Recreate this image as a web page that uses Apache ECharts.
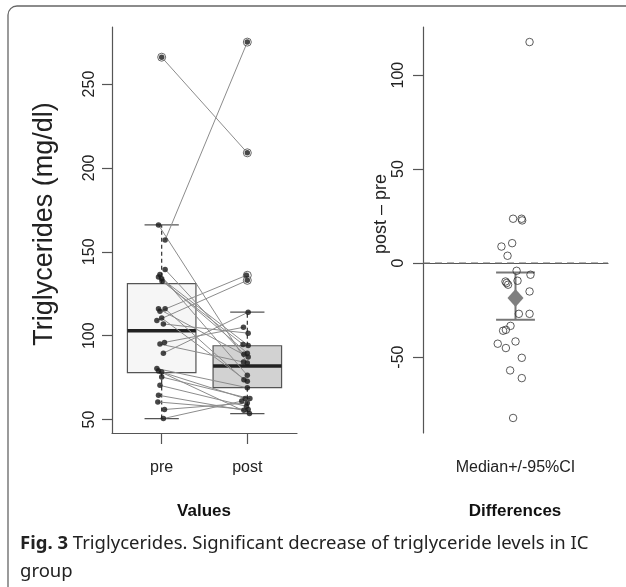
<!DOCTYPE html>
<html>
<head>
<meta charset="utf-8">
<script src="https://cdn.jsdelivr.net/npm/echarts@6/dist/echarts.min.js"></script>
<style>html,body{margin:0;padding:0;background:#fff}#c{width:626px;height:587px}</style>
</head>
<body>
<div id="c"></div>
<script>
// ---- data ----
const groups = ['pre', 'post'];
const preVals  = [266, 166, 157, 139.5, 136.5, 135, 134, 132.5, 116, 116, 114.6, 110.5, 109, 107, 96, 95, 89.6, 80.4, 79, 78.3, 75.4, 70.4, 64.5, 60.5, 56, 50.6];
const postVals = [209, 83.7, 275, 88.9, 76.4, 89.6, 94.2, 94.8, 73.8, 87.3, 136, 72.8, 133, 101.5, 105, 84.3, 114, 69, 53.6, 62.5, 62.5, 57.9, 55.5, 56, 59.9, 61];
const preJitter  = [1.0, 0.963, 1.04, 1.04, 0.98, 0.963, 1.0, 1.005, 1.04, 0.963, 0.98, 1.0, 0.944, 1.02, 1.033, 0.98, 1.02, 0.944, 0.963, 1.0, 1.0, 0.98, 0.963, 0.955, 1.033, 1.02];
const postJitter = [2.0, 2.0, 2.0, 1.96, 2.0, 2.0, 2.01, 1.95, 1.96, 2.01, 1.99, 2.0, 2.0, 2.01, 1.955, 1.955, 2.01, 2.0, 2.025, 1.975, 2.03, 1.99, 1.96, 2.01, 2.0, 1.935];
// five-number box statistics: [lower whisker, Q1, median, Q3, upper whisker]
const preBox  = [50.6, 78, 103, 131, 166];
const postBox = [53.6, 69, 82, 94, 114];
const leftTicks = [50, 100, 150, 200, 250];
const leftYLabel = 'Triglycerides (mg/dl)';

const diffVals   = [117.6, 23.6, 22.7, 23.6, 10.6, 8.8, 3.9, -4.1, -6.2, -9.4, -9.8, -10.6, -11.5, -15.1, -27, -27, -33.4, -35.5, -36, -41.7, -42.9, -45.2, -50.4, -57.1, -61.2, -82.4];
const diffJitter = [1.076, 0.987, 1.036, 1.033, 0.982, 0.924, 0.957, 1.006, 1.081, 1.011, 0.946, 0.952, 0.960, 1.076, 1.018, 1.076, 0.973, 0.948, 0.933, 1.0, 0.904, 0.948, 1.034, 0.971, 1.034, 0.987];
const diffMedian = -18.6;
const diffCI = [-30.2, -5.0];
const rightTicks = [-50, 0, 50, 100];
const rightCategory = 'Median+/-95%CI';
const rightYLabel = 'post \u2013 pre';

// ---- build ----
const chart = echarts.init(document.getElementById('c'), null, {renderer: 'canvas'});
const FONT = 'Liberation Sans, Arial, sans-serif';
const AX = '#555';

const boxes = [[1].concat(preBox), [2].concat(postBox)];
const boxFill = ['#f6f6f6', '#d2d2d2'];
const pairs = preVals.map((v, i) => [preJitter[i], v, postJitter[i], postVals[i]]);
const dots = [];
preVals.forEach((v, i) => dots.push([preJitter[i], v]));
postVals.forEach((v, i) => dots.push([postJitter[i], v]));
const outl = [];
preVals.forEach(v => { if (v > preBox[4] || v < preBox[0]) outl.push([1, v]); });
postVals.forEach(v => { if (v > postBox[4] || v < postBox[0]) outl.push([2, v]); });

const diffPts = diffVals.map((v, i) => [diffJitter[i], v]);

const option = {
  animation: false,
  backgroundColor: '#fff',
  grid: [
    {left: 112, top: 27, width: 185, height: 406},
    {left: 423, top: 27, width: 185, height: 406}
  ],
  xAxis: [
    {gridIndex: 0, type: 'value', min: 0.42, max: 2.58,
     splitLine: {show: false},
     axisLine: {show: true, lineStyle: {color: AX, width: 1.2}},
     axisTick: {show: true, length: 11, customValues: [1, 2], lineStyle: {color: AX, width: 1.2}},
     axisLabel: {show: true, customValues: [1, 2], margin: 27, fontFamily: FONT, fontSize: 16, color: '#222',
                 formatter: v => groups[Math.round(v) - 1]}},
    {gridIndex: 1, type: 'value', min: 0.5, max: 1.5,
     splitLine: {show: false},
     axisLine: {show: true, lineStyle: {color: AX, width: 1.2}},
     axisTick: {show: false}, axisLabel: {show: false},
     name: rightCategory, nameLocation: 'middle', nameGap: 27,
     nameTextStyle: {fontFamily: FONT, fontSize: 16, color: '#222'}}
  ],
  yAxis: [
    {gridIndex: 0, type: 'value', min: 42, max: 284,
     splitLine: {show: false},
     axisLine: {show: true, lineStyle: {color: AX, width: 1.2}},
     axisTick: {show: true, length: 10, customValues: leftTicks, lineStyle: {color: AX, width: 1.2}},
     axisLabel: {show: true, customValues: leftTicks, rotate: 90, margin: 14, fontFamily: FONT, fontSize: 16, color: '#222'}},
    {gridIndex: 1, type: 'value', min: -90.4, max: 125.6,
     splitLine: {show: false},
     axisLine: {show: true, lineStyle: {color: AX, width: 1.2}},
     axisTick: {show: true, length: 10, customValues: rightTicks, lineStyle: {color: AX, width: 1.2}},
     axisLabel: {show: true, customValues: rightTicks, rotate: 90, margin: 16, fontFamily: FONT, fontSize: 16, color: '#222'}}
  ],
  series: [
    {type: 'custom', xAxisIndex: 0, yAxisIndex: 0, data: boxes, z: 1,
     renderItem: function (params, api) {
       const x = api.value(0), lo = api.value(1), q1 = api.value(2), md = api.value(3), q3 = api.value(4), hi = api.value(5);
       const tl = api.coord([x - 0.4, q3]), br = api.coord([x + 0.4, q1]);
       const cx = api.coord([x, md])[0];
       const capL = api.coord([x - 0.2, 0])[0], capR = api.coord([x + 0.2, 0])[0];
       const yLo = api.coord([x, lo])[1], yHi = api.coord([x, hi])[1], yMd = api.coord([x, md])[1];
       const st = {stroke: '#555', lineWidth: 1.2};
       return {type: 'group', children: [
         {type: 'line', shape: {x1: cx, y1: tl[1], x2: cx, y2: yHi}, style: {stroke: '#333', lineWidth: 1.2, lineDash: [4, 3]}},
         {type: 'line', shape: {x1: cx, y1: br[1], x2: cx, y2: yLo}, style: {stroke: '#333', lineWidth: 1.2, lineDash: [4, 3]}},
         {type: 'line', shape: {x1: capL, y1: yHi, x2: capR, y2: yHi}, style: st},
         {type: 'line', shape: {x1: capL, y1: yLo, x2: capR, y2: yLo}, style: st},
         {type: 'rect', shape: {x: tl[0], y: tl[1], width: br[0] - tl[0], height: br[1] - tl[1]},
          style: {fill: boxFill[params.dataIndex], stroke: '#555', lineWidth: 1.2}},
         {type: 'line', shape: {x1: tl[0], y1: yMd, x2: br[0], y2: yMd}, style: {stroke: '#222', lineWidth: 3.5}}
       ]};
     }},
    {type: 'custom', xAxisIndex: 0, yAxisIndex: 0, data: pairs, z: 3,
     renderItem: function (params, api) {
       const a = api.coord([api.value(0), api.value(1)]), b = api.coord([api.value(2), api.value(3)]);
       return {type: 'line', shape: {x1: a[0], y1: a[1], x2: b[0], y2: b[1]}, style: {stroke: '#8c8c8c', lineWidth: 1}};
     }},
    {type: 'scatter', xAxisIndex: 0, yAxisIndex: 0, data: outl, z: 4, symbol: 'circle', symbolSize: 8,
     itemStyle: {color: '#fff', borderColor: '#444', borderWidth: 1}},
    {type: 'scatter', xAxisIndex: 0, yAxisIndex: 0, data: dots, z: 5, symbol: 'circle', symbolSize: 5.5,
     itemStyle: {color: '#1a1a1a'}},
    // right panel
    {type: 'line', xAxisIndex: 1, yAxisIndex: 1, data: [[0.5, 0], [1.5, 0]], z: 1, symbol: 'none',
     lineStyle: {color: '#666', width: 1.2, type: [7, 5]}},
    {type: 'custom', xAxisIndex: 1, yAxisIndex: 1, data: [[1, diffMedian, diffCI[0], diffCI[1]]], z: 3,
     renderItem: function (params, api) {
       const x = api.value(0);
       const c = api.coord([x, api.value(1)]);
       const lo = api.coord([x, api.value(2)]), hi = api.coord([x, api.value(3)]);
       const capL = api.coord([x - 0.105, 0])[0], capR = api.coord([x + 0.105, 0])[0];
       const st = {stroke: '#777', lineWidth: 2};
       return {type: 'group', children: [
         {type: 'line', shape: {x1: c[0], y1: lo[1], x2: c[0], y2: hi[1]}, style: st},
         {type: 'line', shape: {x1: capL, y1: lo[1], x2: capR, y2: lo[1]}, style: st},
         {type: 'line', shape: {x1: capL, y1: hi[1], x2: capR, y2: hi[1]}, style: st},
         {type: 'polygon', shape: {points: [[c[0], c[1] - 9], [c[0] + 8, c[1]], [c[0], c[1] + 9], [c[0] - 8, c[1]]]},
          style: {fill: '#7f7f7f'}}
       ]};
     }},
    {type: 'scatter', xAxisIndex: 1, yAxisIndex: 1, data: diffPts, z: 4, symbol: 'circle', symbolSize: 7.5,
     itemStyle: {color: 'rgba(255,255,255,0)', borderColor: '#333', borderWidth: 1}}
  ],
  graphic: [
    {type: 'rect', shape: {x: 8, y: 6, width: 700, height: 700, r: 9}, style: {fill: 'none', stroke: '#666', lineWidth: 1.3}, z: 0, silent: true},
    {type: 'text', x: 45, y: 224, rotation: Math.PI / 2, style: {text: leftYLabel, font: '27px Liberation Sans, Arial, sans-serif', fill: '#222', textAlign: 'center', textVerticalAlign: 'middle'}},
    {type: 'text', x: 381, y: 214, rotation: Math.PI / 2, style: {text: rightYLabel, font: '18px Liberation Sans, Arial, sans-serif', fill: '#222', textAlign: 'center', textVerticalAlign: 'middle'}},
    {type: 'text', x: 204, y: 511, style: {text: 'Values', font: 'bold 17px Liberation Sans, Arial, sans-serif', fill: '#111', textAlign: 'center', textVerticalAlign: 'middle'}},
    {type: 'text', x: 515, y: 511, style: {text: 'Differences', font: 'bold 17px Liberation Sans, Arial, sans-serif', fill: '#111', textAlign: 'center', textVerticalAlign: 'middle'}},
    {type: 'text', x: 20, y: 544, style: {
      text: '{b|Fig. 3} Triglycerides. Significant decrease of triglyceride levels in IC',
      font: '18.5px Noto Sans, sans-serif', fill: '#222', textVerticalAlign: 'middle',
      rich: {b: {font: 'bold 18.5px Noto Sans, sans-serif', fill: '#222'}}}},
    {type: 'text', x: 20, y: 572, style: {text: 'group', font: '18.5px Noto Sans, sans-serif', fill: '#222', textVerticalAlign: 'middle'}}
  ]
};
chart.setOption(option);
</script>
</body>
</html>
